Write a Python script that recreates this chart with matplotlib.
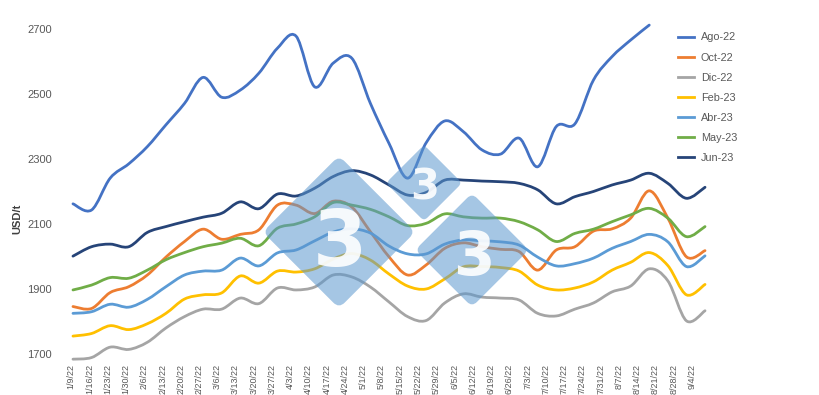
import numpy as np
import matplotlib
matplotlib.use("Agg")
import matplotlib.pyplot as plt
from matplotlib.path import Path
from matplotlib.patches import PathPatch, FancyBboxPatch
from matplotlib.lines import Line2D
from matplotlib.transforms import Affine2D

plt.rcParams['font.family'] = ['Liberation Sans', 'DejaVu Sans']

# ---------------- data ----------------
week_labels = ['1/9/22', '1/16/22', '1/23/22', '1/30/22', '2/6/22', '2/13/22', '2/20/22',
               '2/27/22', '3/6/22', '3/13/22', '3/20/22', '3/27/22', '4/3/22', '4/10/22',
               '4/17/22', '4/24/22', '5/1/22', '5/8/22', '5/15/22', '5/22/22', '5/29/22',
               '6/5/22', '6/12/22', '6/19/22', '6/26/22', '7/3/22', '7/10/22', '7/17/22',
               '7/24/22', '7/31/22', '8/7/22', '8/14/22', '8/21/22', '8/28/22', '9/4/22']

series_names = ['Ago-22', 'Oct-22', 'Dic-22', 'Feb-23', 'Abr-23', 'May-23', 'Jun-23']

ago22 = [2162, 2143, 2241, 2285, 2338, 2405, 2471, 2551, 2490, 2512, 2564, 2641, 2678, 2522,
         2595, 2610, 2471, 2348, 2241, 2350, 2417, 2384, 2328, 2315, 2364, 2276, 2400, 2408,
         2543, 2615, 2666, 2712]
oct22 = [1846, 1840, 1889, 1907, 1943, 1998, 2046, 2084, 2053, 2068, 2082, 2158, 2158, 2132,
         2170, 2152, 2076, 1999, 1943, 1974, 2025, 2042, 2030, 2022, 2015, 1958, 2020, 2030,
         2078, 2085, 2118, 2202, 2118, 1999, 2018]
dic22 = [1684, 1689, 1721, 1714, 1736, 1780, 1815, 1838, 1838, 1872, 1855, 1903, 1897, 1906,
         1943, 1937, 1906, 1860, 1815, 1803, 1857, 1885, 1875, 1872, 1866, 1825, 1817, 1838,
         1857, 1891, 1909, 1962, 1925, 1802, 1833]
feb23 = [1755, 1763, 1787, 1775, 1793, 1825, 1869, 1882, 1888, 1940, 1918, 1955, 1952, 1962,
         1992, 2009, 1989, 1946, 1909, 1900, 1931, 1968, 1969, 1966, 1955, 1912, 1897, 1903,
         1922, 1958, 1982, 2012, 1972, 1882, 1914]
abr23 = [1825, 1830, 1853, 1844, 1868, 1907, 1943, 1955, 1958, 1995, 1971, 2011, 2020, 2048,
         2075, 2085, 2072, 2032, 2008, 2008, 2038, 2051, 2048, 2045, 2035, 1998, 1971, 1978,
         1995, 2025, 2046, 2068, 2045, 1969, 2002]
may23 = [1897, 1912, 1935, 1933, 1958, 1990, 2012, 2030, 2041, 2056, 2033, 2087, 2100, 2122,
         2166, 2158, 2145, 2122, 2095, 2102, 2131, 2122, 2118, 2118, 2107, 2082, 2046, 2071,
         2084, 2107, 2128, 2148, 2118, 2061, 2092]
jun23 = [2001, 2030, 2038, 2030, 2074, 2092, 2107, 2121, 2133, 2168, 2147, 2192, 2186, 2210,
         2246, 2264, 2251, 2220, 2189, 2197, 2235, 2235, 2232, 2230, 2225, 2205, 2162, 2184,
         2200, 2220, 2235, 2256, 2225, 2179, 2213]

y_ticks = [1700, 1900, 2100, 2300, 2500, 2700]

# ---------------- style ----------------
colors = ['#4472c4', '#ed7d31', '#a5a5a5', '#ffc000', '#5b9bd5', '#70ad47', '#264478']
all_series = [ago22, oct22, dic22, feb23, abr23, may23, jun23]
text_color = '#595959'
LW = 2.0


def smooth_path(yvals):
    """Excel-like smoothed line (Catmull-Rom converted to cubic Bezier)."""
    x = np.arange(len(yvals), dtype=float)
    pts = np.column_stack([x, np.asarray(yvals, dtype=float)])
    n = len(pts)
    verts = [pts[0]]
    codes = [Path.MOVETO]
    for i in range(n - 1):
        p0 = pts[i - 1] if i > 0 else pts[i]
        p1 = pts[i]
        p2 = pts[i + 1]
        p3 = pts[i + 2] if i + 2 < n else pts[i + 1]
        c1 = p1 + (p2 - p0) / 6.0
        c2 = p2 - (p3 - p1) / 6.0
        verts += [c1, c2, p2]
        codes += [Path.CURVE4] * 3
    return Path(verts, codes)


W, H = 820, 395
fig = plt.figure(figsize=(W / 100, H / 100), dpi=100)
ax = fig.add_axes([67.4 / W, 0.0833, (710.6 - 67.4) / W, 0.8927])
ax.set_xlim(-0.3, len(week_labels) - 1 + 0.3)
ax.set_ylim(1675, 2760)

for vals, col in zip(all_series, colors):
    ax.add_patch(PathPatch(smooth_path(vals), fill=False, edgecolor=col, lw=LW,
                           capstyle='round', joinstyle='round'))

for s in ax.spines.values():
    s.set_visible(False)

ax.set_yticks(y_ticks)
ax.set_yticklabels([str(v) for v in y_ticks])
ax.tick_params(axis='y', length=0, pad=11, labelsize=8, labelcolor=text_color)

# category labels are spaced slightly tighter than the plotted weeks in the original
tick_pos = np.arange(len(week_labels)) * 0.982 - 0.09
ax.set_xticks(tick_pos)
ax.set_xticklabels(week_labels, rotation=90, fontsize=6.5)
ax.tick_params(axis='x', length=0, pad=1.5, labelcolor=text_color)

fig.text(17.5 / W, 1 - 219 / H, 'USD/t', rotation=90, fontsize=8, fontweight='bold',
         color='#404040', ha='center', va='center')

# legend
handles = [Line2D([], [], color=c, lw=LW) for c in colors]
fig.legend(handles, series_names, loc='upper left', bbox_to_anchor=(678 / W, 1 - 32.5 / H),
           frameon=False, fontsize=7.8, handlelength=1.5, handletextpad=0.6,
           labelspacing=0.93, borderpad=0, borderaxespad=0, labelcolor=text_color)

# watermark (3tres3 logo)
def diamond(cx, cy, h, r):
    s = (h + r * 0.414) * 1.414
    cxi, cyi = cx / 100, (H - cy) / 100
    si, ri = s / 100, r / 100
    p = FancyBboxPatch((cxi - si / 2, cyi - si / 2), si, si,
                       boxstyle=f"round,pad=0,rounding_size={ri}",
                       transform=Affine2D().rotate_deg_around(cxi, cyi, 45) + fig.dpi_scale_trans,
                       facecolor='#5b97ce', alpha=0.55, edgecolor='none', zorder=3)
    fig.add_artist(p)


def three(cx, cy, size):
    # place the digit so that its visible glyph is centred on (cx, cy)
    digit_h = 0.73 * size * 100 / 72
    fig.text(cx / W, 1 - (cy + digit_h / 2) / H, '3', fontsize=size, fontweight='bold',
             color='white', alpha=0.9, ha='center', va='baseline', family='DejaVu Sans',
             zorder=4)


diamond(339, 232, 73, 8)
diamond(424, 183, 36, 5)
diamond(472, 250, 54, 7)
three(339.5, 238, 56)
three(425, 184, 30)
three(474, 253, 43)

fig.savefig('out.png', dpi=100)
